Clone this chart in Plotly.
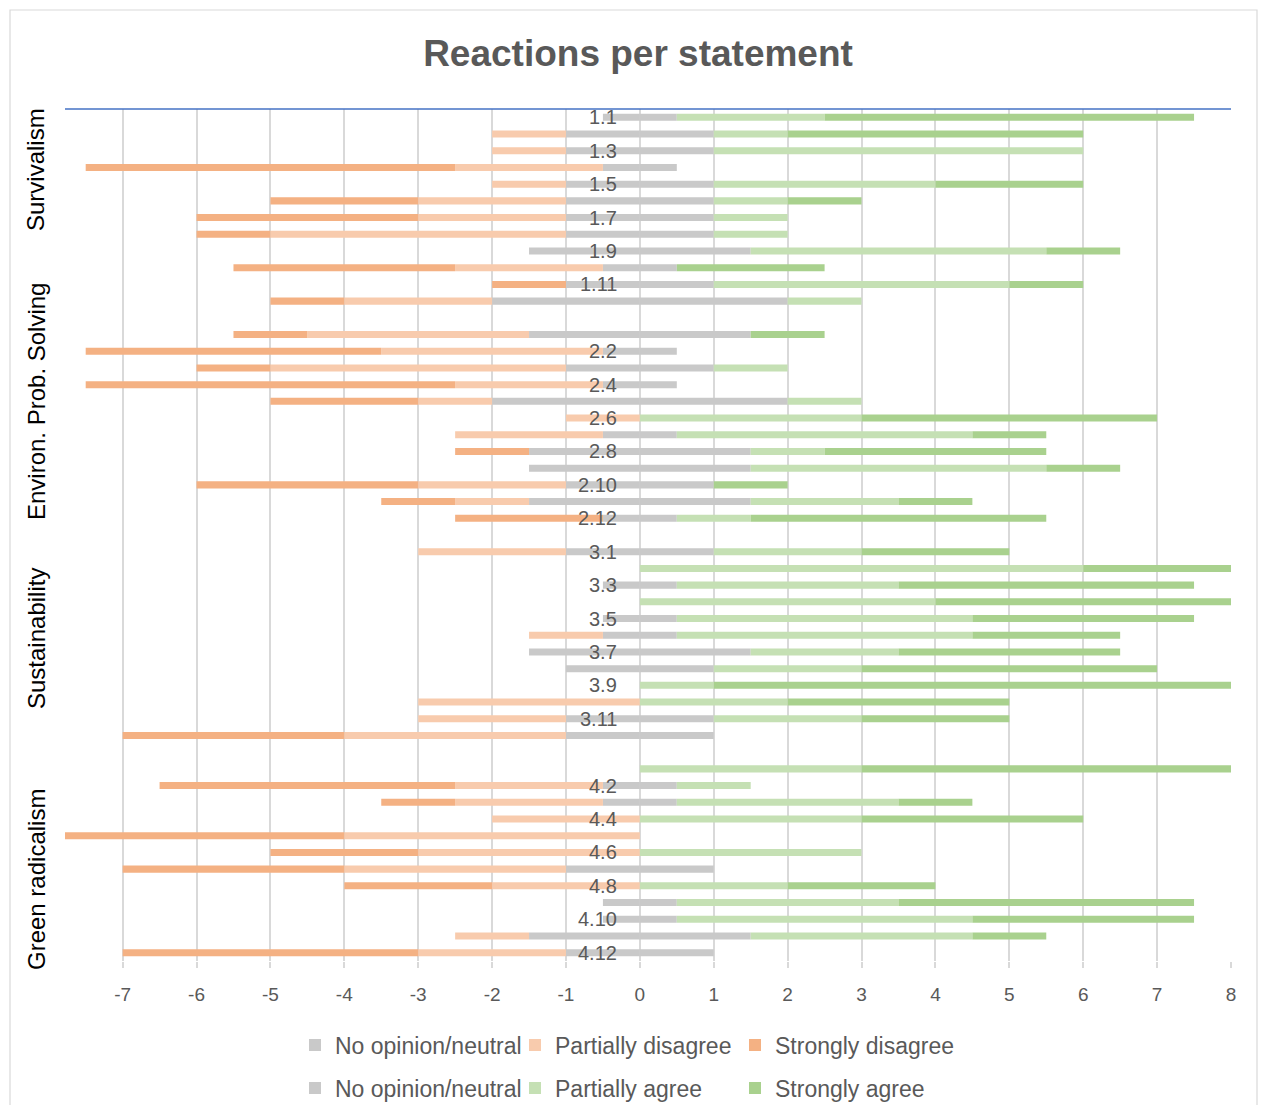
import plotly.graph_objects as go

# ---------------- data ----------------
group_names = ["Survivalism", "Environ. Prob. Solving", "Sustainability", "Green radicalism"]

labels_g1 = ["1.1", "1.2", "1.3", "1.4", "1.5", "1.6", "1.7", "1.8", "1.9", "1.10", "1.11", "1.12"]
labels_g2 = ["2.1", "2.2", "2.3", "2.4", "2.5", "2.6", "2.7", "2.8", "2.9", "2.10", "2.11", "2.12"]
labels_g3 = ["3.1", "3.2", "3.3", "3.4", "3.5", "3.6", "3.7", "3.8", "3.9", "3.10", "3.11", "3.12"]
labels_g4 = ["4.1", "4.2", "4.3", "4.4", "4.5", "4.6", "4.7", "4.8", "4.9", "4.10", "4.11", "4.12"]

neutral_g1 = [1, 2, 2, 1, 2, 2, 2, 2, 3, 1, 2, 4]
part_dis_g1 = [0, 1, 1, 2, 1, 2, 2, 4, 0, 2, 0, 2]
strong_dis_g1 = [0, 0, 0, 5, 0, 2, 3, 1, 0, 3, 1, 1]
part_agr_g1 = [2, 1, 5, 0, 3, 1, 1, 1, 4, 0, 4, 1]
strong_agr_g1 = [5, 4, 0, 0, 2, 1, 0, 0, 1, 2, 1, 0]

neutral_g2 = [3, 1, 2, 1, 4, 0, 1, 3, 3, 2, 3, 1]
part_dis_g2 = [3, 3, 4, 2, 1, 1, 2, 0, 0, 2, 1, 0]
strong_dis_g2 = [1, 4, 1, 5, 2, 0, 0, 1, 0, 3, 1, 2]
part_agr_g2 = [0, 0, 1, 0, 1, 3, 4, 1, 4, 0, 2, 1]
strong_agr_g2 = [1, 0, 0, 0, 0, 4, 1, 3, 1, 1, 1, 4]

neutral_g3 = [2, 0, 1, 0, 1, 1, 3, 2, 0, 0, 2, 2]
part_dis_g3 = [2, 0, 0, 0, 0, 1, 0, 0, 0, 3, 2, 3]
strong_dis_g3 = [0, 0, 0, 0, 0, 0, 0, 0, 0, 0, 0, 3]
part_agr_g3 = [2, 6, 3, 4, 4, 4, 2, 2, 1, 2, 2, 0]
strong_agr_g3 = [2, 2, 4, 4, 3, 2, 3, 4, 7, 3, 2, 0]

neutral_g4 = [0, 1, 1, 0, 0, 0, 2, 0, 1, 1, 3, 2]
part_dis_g4 = [0, 2, 2, 2, 4, 3, 3, 2, 0, 0, 1, 2]
strong_dis_g4 = [0, 4, 1, 0, 4, 2, 3, 2, 0, 0, 0, 4]
part_agr_g4 = [3, 1, 3, 3, 0, 3, 0, 2, 3, 4, 3, 0]
strong_agr_g4 = [5, 0, 1, 3, 0, 0, 0, 2, 4, 3, 1, 0]

tick_values = [-7, -6, -5, -4, -3, -2, -1, 0, 1, 2, 3, 4, 5, 6, 7, 8]
tick_labels = ["-7", "-6", "-5", "-4", "-3", "-2", "-1", "0", "1", "2", "3", "4", "5", "6", "7", "8"]

legend_names = ["No opinion/neutral", "Partially disagree", "Strongly disagree",
                "No opinion/neutral", "Partially agree", "Strongly agree"]
colors = ["#C9C9C9", "#F8CBAD", "#F4B183", "#C9C9C9", "#C5E0B4", "#A9D18E"]

# ---------------- assemble (blank spacer row between groups) ----------------
groups = [
    (labels_g1, neutral_g1, part_dis_g1, strong_dis_g1, part_agr_g1, strong_agr_g1),
    (labels_g2, neutral_g2, part_dis_g2, strong_dis_g2, part_agr_g2, strong_agr_g2),
    (labels_g3, neutral_g3, part_dis_g3, strong_dis_g3, part_agr_g3, strong_agr_g3),
    (labels_g4, neutral_g4, part_dis_g4, strong_dis_g4, part_agr_g4, strong_agr_g4),
]
cats, N, PD, SD, PA, SA = [], [], [], [], [], []
for gi, (lab, n, pdv, sdv, pav, sav) in enumerate(groups):
    cats += lab; N += n; PD += pdv; SD += sdv; PA += pav; SA += sav
    if gi < len(groups) - 1:
        cats.append(" " * (gi + 1))
        N.append(0); PD.append(0); SD.append(0); PA.append(0); SA.append(0)

series = [
    [-v / 2 for v in N],
    [-v for v in PD],
    [-v for v in SD],
    [v / 2 for v in N],
    PA,
    SA,
]

# ---------------- geometry (page px -> figure; body has 8px margin) ----------------
OFF = 8
W, H = 1250, 1097
L = 65 - OFF
T = 109 - OFF
R = W - (1231 - OFF)
B = H - (961 - OFF)
PW, PH = W - L - R, H - T - B


def px_x(px):
    return (px - OFF - L) / PW


def px_y(py):
    return (H - B - (py - OFF)) / PH


FONT = "Liberation Sans, Arial, sans-serif"
GRAY_TXT = "#595959"

fig = go.Figure()
for i, (vals, name, col) in enumerate(zip(series, legend_names, colors)):
    fig.add_trace(go.Bar(
        y=cats, x=vals, orientation="h", name=name,
        marker=dict(color=col, line=dict(width=0)),
        legend="legend" if i < 3 else "legend2",
        hovertemplate="%{y}: %{x}<extra>" + name + "</extra>",
    ))

annotations = []
# statement labels (every second row, like the original)
for idx, c in enumerate(cats):
    if idx % 2 == 0 and c.strip():
        annotations.append(dict(
            x=0, y=idx, xref="x", yref="y", text=c, showarrow=False,
            xanchor="right", yanchor="middle", xshift=-21,
            font=dict(family=FONT, size=20, color=GRAY_TXT),
        ))

# group labels on the left
group_centers = [170, 402, 639, 880]
for gname, cy in zip(group_names, group_centers):
    annotations.append(dict(
        x=px_x(36), y=px_y(cy), xref="paper", yref="paper", text=gname,
        showarrow=False, textangle=-90, xanchor="center", yanchor="middle",
        font=dict(family=FONT, size=24, color="#000000"),
    ))

shapes = [
    dict(type="line", xref="paper", yref="paper", x0=0, x1=1, y0=1, y1=1,
         line=dict(color="#4472C4", width=1.5)),
    dict(type="rect", xref="paper", yref="paper",
         x0=px_x(10), x1=px_x(1257), y0=px_y(1140), y1=px_y(10),
         line=dict(color="#D9D9D9", width=1.2), fillcolor="rgba(0,0,0,0)", layer="below"),
]

legend_common = dict(
    orientation="h", xanchor="left", yanchor="middle",
    entrywidth=175, entrywidthmode="pixels", traceorder="normal",
    font=dict(family=FONT, size=23, color=GRAY_TXT), bgcolor="rgba(0,0,0,0)",
    itemclick=False, itemdoubleclick=False,
)

fig.update_layout(
    width=W, height=H,
    margin=dict(l=L, r=R, t=T, b=B, autoexpand=False),
    paper_bgcolor="white", plot_bgcolor="white",
    barmode="relative", bargap=0.58,
    title=dict(text="<b>Reactions per statement</b>", x=(638 - OFF) / W, xref="container",
               y=1 - (53 - OFF) / H, yref="container", xanchor="center", yanchor="middle",
               font=dict(family=FONT, size=37, color=GRAY_TXT)),
    xaxis=dict(range=[-7.78, 8], tickmode="array", tickvals=tick_values, ticktext=tick_labels,
               showgrid=True, gridcolor="#D9D9D9", gridwidth=1.5, zeroline=False,
               showline=False, ticks="outside", ticklen=6, tickcolor="#D9D9D9", tickwidth=1.5,
               ticklabelstandoff=10,
               tickfont=dict(family=FONT, size=19, color=GRAY_TXT), fixedrange=True),
    yaxis=dict(type="category", categoryorder="array", categoryarray=cats,
               range=[len(cats) - 0.5, -0.5], showticklabels=False, showgrid=False,
               zeroline=False, showline=False, ticks="", fixedrange=True),
    legend=dict(x=px_x(295), y=px_y(1045), **legend_common),
    legend2=dict(x=px_x(295), y=px_y(1088), **legend_common),
    annotations=annotations,
    shapes=shapes,
    showlegend=True,
)

fig.write_html("out.html")
